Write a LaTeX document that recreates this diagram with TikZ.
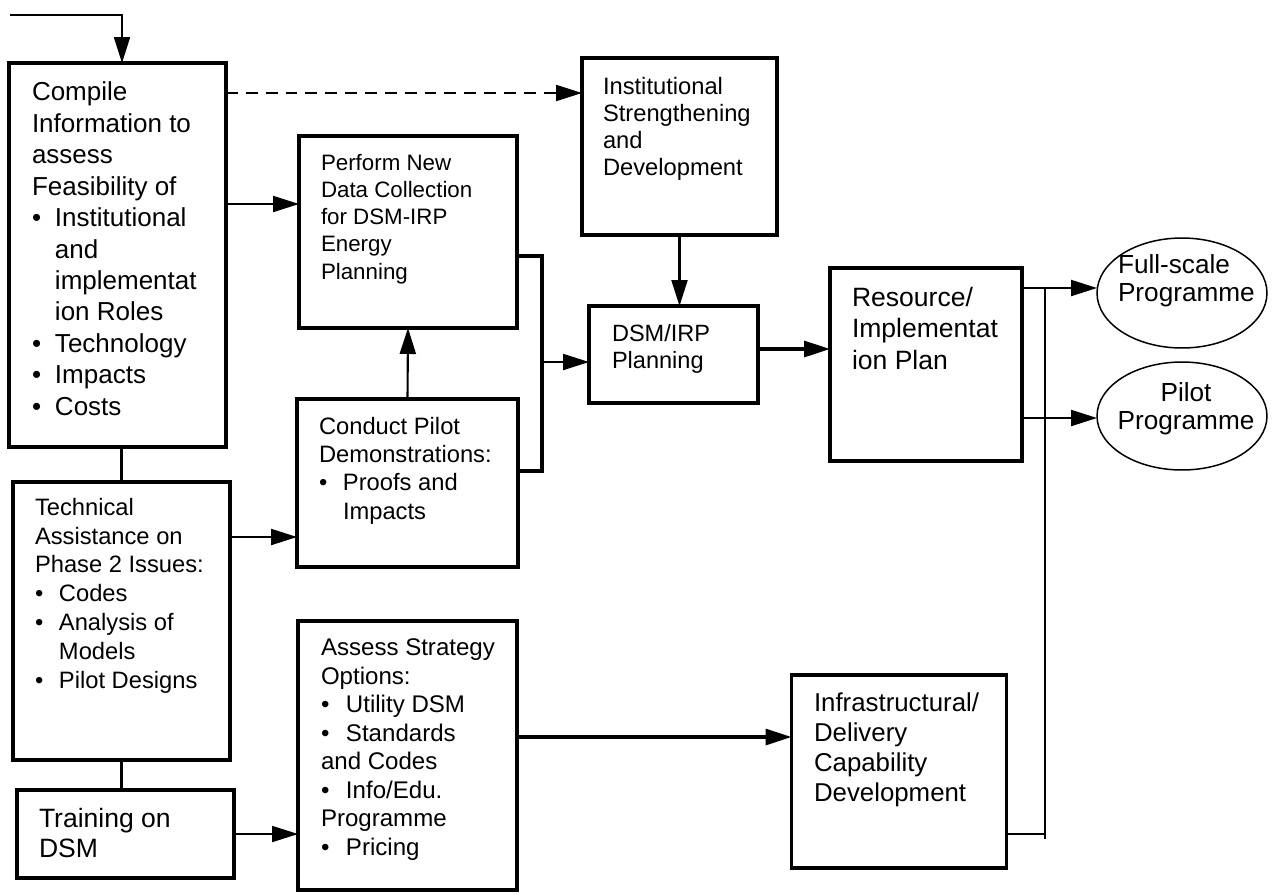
\documentclass[tikz,border=0pt]{standalone}
\usepackage{fontspec}
\setmainfont{Liberation Sans}
\usetikzlibrary{arrows.meta,shapes.geometric}
\newcommand{\bul}[2][0.46cm]{\makebox[#1][l]{\textbullet}#2}
\newcommand{\indt}[1][0.46cm]{\hspace*{#1}}
\begin{document}
\begin{tikzpicture}[x=0.02cm,y=-0.02cm,
  box/.style={draw,line width=1.8pt,rectangle,inner sep=0pt,outer sep=0pt},
  txt/.style={anchor=north west,inner sep=0pt,outer sep=0pt,align=left},
  fs/.style 2 args={font=\fontsize{#1}{#2}\selectfont},
  arr/.style={-{Triangle[length=0.52cm,width=0.32cm]},line width=1.2pt},
  thinln/.style={line width=1.2pt},
  heavy/.style={line width=1.8pt},
  oval/.style={draw,ellipse,line width=0.85pt,inner sep=0pt,outer sep=0pt}]
\useasboundingbox (0,0) rectangle (1274,893);

% boxes
\node[box,minimum width=4.34cm,minimum height=7.68cm] (compile) at (117.5,255) {};
\node[box,minimum width=4.34cm,minimum height=5.56cm] (tech) at (121.5,621) {};
\node[box,minimum width=4.34cm,minimum height=1.76cm] (training) at (125.5,834) {};
\node[box,minimum width=4.36cm,minimum height=3.84cm] (perform) at (408,232) {};
\node[box,minimum width=4.42cm,minimum height=3.36cm] (conduct) at (407.5,483) {};
\node[box,minimum width=4.38cm,minimum height=5.38cm] (assess) at (407.5,755.5) {};
\node[box,minimum width=3.9cm,minimum height=3.54cm] (inst) at (679.5,146.5) {};
\node[box,minimum width=3.38cm,minimum height=1.94cm] (dsm) at (673.5,354.5) {};
\node[box,minimum width=3.84cm,minimum height=3.86cm] (resource) at (926,364.5) {};
\node[box,minimum width=4.3cm,minimum height=3.86cm] (infra) at (899,771.5) {};
\node[oval,minimum width=3.4cm,minimum height=2.2cm] (full) at (1182,293) {};
\node[oval,minimum width=3.4cm,minimum height=2.16cm] (pilot) at (1182,416) {};

% texts
\node[txt,fs={14.8}{17.9}] (tcompile) at (32,82) {Compile\\Information to\\assess\\Feasibility of\\\bul{Institutional}\\\indt and\\\indt implementat\\\indt ion Roles\\\bul{Technology}\\\bul{Impacts}\\\bul{Costs}};
\node[txt,fs={13.5}{16.4}] (ttech) at (35,498) {Technical\\Assistance on\\Phase 2 Issues:\\\bul[0.48cm]{Codes}\\\bul[0.48cm]{Analysis of}\\\indt[0.48cm]Models\\\bul[0.48cm]{Pilot Designs}};
\node[txt,fs={15.1}{17.1}] (ttraining) at (39,808) {Training on\\DSM};
\node[txt,fs={12.7}{15.5}] (tperform) at (321,154) {Perform New\\Data Collection\\for DSM-IRP\\Energy\\Planning};
\node[txt,fs={13.5}{16.1}] (tconduct) at (319,417) {Conduct Pilot\\Demonstrations:\\\bul[0.48cm]{Proofs and}\\\indt[0.48cm]Impacts};
\node[txt,fs={13.7}{16.2}] (tassess) at (321,639) {Assess Strategy\\Options:\\\bul[0.5cm]{Utility DSM}\\\bul[0.5cm]{Standards}\\and Codes\\\bul[0.5cm]{Info/Edu.}\\Programme\\\bul[0.5cm]{Pricing}};
\node[txt,fs={13.5}{15.5}] (tinst) at (603,77) {Institutional\\Strengthening\\and\\Development};
\node[txt,fs={13.4}{15.7}] (tdsm) at (612,324) {DSM/IRP\\Planning};
\node[txt,fs={15.1}{18}] (tresource) at (852,287) {Resource/\\Implementat\\ion Plan};
\node[txt,fs={14.7}{17.1}] (tinfra) at (814,693) {Infrastructural/\\Delivery\\Capability\\Development};
\node[txt,fs={14.9}{15.9}] (tfull) at (1118,255) {Full-scale\\Programme};
\node[anchor=north,inner sep=0pt,align=center,fs={14.9}{15.9}] (tpilot) at (1186,382) {Pilot\\Programme};

% helper coordinates
\coordinate (start) at (10,15);
\coordinate (xin) at (122,0);
\coordinate (yd) at (0,93);
\coordinate (yp) at (0,204);
\coordinate (yq) at (0,256);
\coordinate (yr) at (0,471);
\coordinate (br) at (542,362);
\coordinate (yt) at (0,537);
\coordinate (ya) at (0,737);
\coordinate (yds) at (0,349);
\coordinate (yf) at (0,288);
\coordinate (yg) at (0,418);
\coordinate (yi) at (0,834);
\coordinate (jn) at (1045,289);
\coordinate (jb) at (1045,839);

% connectors
\draw[arr] (start) -| (compile.north -| xin);
\draw[arr,dash pattern=on 6.8pt off 4.5pt] (compile.east |- yd) -- (inst.west |- yd);
\draw[arr] (compile.east |- yp) -- (perform.west |- yp);
\draw[arr] (inst.south) -- (inst.south |- dsm.north);
\draw[heavy] (perform.east |- yq) -| (br) |- (conduct.east |- yr);
\draw[arr] (br) -- (dsm.west |- br);
\draw[arr] (conduct.north) -- (perform.south);
\draw[thinln] (compile.south -| tech.north) -- (tech.north);
\draw[thinln] (tech.south) -- (tech.south |- training.north);
\draw[arr] (tech.east |- yt) -- (conduct.west |- yt);
\draw[arr] (training.east) -- (assess.west |- training.east);
\draw[arr,heavy] (assess.east |- ya) -- (infra.west |- ya);
\draw[arr,heavy] (dsm.east |- yds) -- (resource.west |- yds);
\draw[arr] (resource.east |- yf) -- (full.west |- yf);
\draw[arr] (resource.east |- yg) -- (pilot.west |- yg);
\draw[thinln] (infra.east |- yi) -- (jb |- yi);
\draw[thinln] (jb) -- (jn);
\end{tikzpicture}
\end{document}
